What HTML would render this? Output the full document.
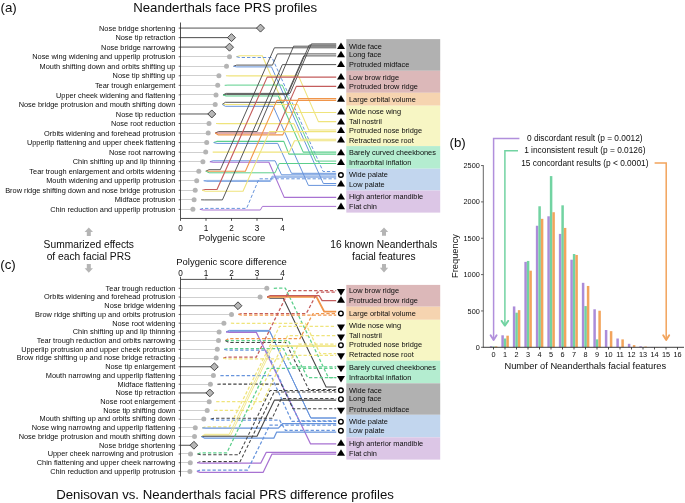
<!DOCTYPE html>
<html lang="en"><head><meta charset="utf-8"><title>Neanderthals face PRS profiles</title>
<style>
html,body{margin:0;padding:0;background:#fff;}
body{width:685px;height:503px;overflow:hidden;font-family:"Liberation Sans",sans-serif;}
svg{display:block;will-change:transform;opacity:0.9999;}
svg text{font-family:"Liberation Sans",sans-serif;}
</style></head><body>
<svg width="685" height="503" viewBox="0 0 685 503" font-family='"Liberation Sans", sans-serif'>
<rect width="685" height="503" fill="#fff"/>
<text x="0.50" y="12.22" font-size="13.3" text-anchor="start" fill="#0d0d0d" >(a)</text>
<text x="225.20" y="11.69" font-size="13.2" text-anchor="middle" fill="#0d0d0d" >Neanderthals face PRS profiles</text>
<text x="0.30" y="268.92" font-size="13.3" text-anchor="start" fill="#0d0d0d" >(c)</text>
<text x="225.00" y="498.69" font-size="13.2" text-anchor="middle" fill="#0d0d0d" >Denisovan vs. Neanderthals facial PRS difference profiles</text>
<text x="449.50" y="147.12" font-size="13.3" text-anchor="start" fill="#0d0d0d" >(b)</text>
<rect x="346.3" y="39.1" width="93.90" height="31.70" fill="#b1b1b1"/>
<rect x="346.3" y="70.8" width="93.90" height="22.00" fill="#dcb8b9"/>
<rect x="346.3" y="92.8" width="93.90" height="12.90" fill="#f6d4b0"/>
<rect x="346.3" y="105.7" width="93.90" height="40.40" fill="#f7f6c4"/>
<rect x="346.3" y="146.1" width="93.90" height="22.60" fill="#b4edd0"/>
<rect x="346.3" y="168.7" width="93.90" height="21.80" fill="#c2d6ee"/>
<rect x="346.3" y="190.5" width="93.90" height="22.10" fill="#dcc6e6"/>
<text x="175.30" y="30.72" font-size="7.38" text-anchor="end" fill="#0d0d0d" >Nose bridge shortening</text>
<line x1="178.7" y1="28.10" x2="180.5" y2="28.10" stroke="#222" stroke-width="0.7"/>
<line x1="180.5" y1="28.10" x2="260.50" y2="28.10" stroke="#9c9c9c" stroke-width="1.7"/>
<path d="M256.50,28.10 L260.50,24.10 L264.50,28.10 L260.50,32.10 Z" fill="#b7b7b7" stroke="#2e2e2e" stroke-width="0.85"/>
<text x="175.30" y="40.26" font-size="7.38" text-anchor="end" fill="#0d0d0d" >Nose tip retraction</text>
<line x1="178.7" y1="37.64" x2="180.5" y2="37.64" stroke="#222" stroke-width="0.7"/>
<line x1="180.5" y1="37.64" x2="231.50" y2="37.64" stroke="#3a3a3a" stroke-width="0.9"/>
<path d="M227.50,37.64 L231.50,33.64 L235.50,37.64 L231.50,41.64 Z" fill="#b7b7b7" stroke="#2e2e2e" stroke-width="0.85"/>
<text x="175.30" y="49.80" font-size="7.38" text-anchor="end" fill="#0d0d0d" >Nose bridge narrowing</text>
<line x1="178.7" y1="47.18" x2="180.5" y2="47.18" stroke="#222" stroke-width="0.7"/>
<line x1="180.5" y1="47.18" x2="229.50" y2="47.18" stroke="#9c9c9c" stroke-width="1.7"/>
<path d="M225.50,47.18 L229.50,43.18 L233.50,47.18 L229.50,51.18 Z" fill="#b7b7b7" stroke="#2e2e2e" stroke-width="0.85"/>
<text x="175.30" y="59.34" font-size="7.38" text-anchor="end" fill="#0d0d0d" >Nose wing widening and upperlip protrusion</text>
<line x1="178.7" y1="56.72" x2="180.5" y2="56.72" stroke="#222" stroke-width="0.7"/>
<line x1="180.5" y1="56.50" x2="229.50" y2="56.50" stroke="#cfcfcf" stroke-width="1"/>
<circle cx="229.50" cy="56.72" r="2.5" fill="#b4b4b4"/>
<text x="175.30" y="68.88" font-size="7.38" text-anchor="end" fill="#0d0d0d" >Mouth shifting down and orbits shifting up</text>
<line x1="178.7" y1="66.26" x2="180.5" y2="66.26" stroke="#222" stroke-width="0.7"/>
<line x1="180.5" y1="66.50" x2="226.50" y2="66.50" stroke="#cfcfcf" stroke-width="1"/>
<circle cx="226.50" cy="66.26" r="2.5" fill="#b4b4b4"/>
<text x="175.30" y="78.42" font-size="7.38" text-anchor="end" fill="#0d0d0d" >Nose tip shifting up</text>
<line x1="178.7" y1="75.80" x2="180.5" y2="75.80" stroke="#222" stroke-width="0.7"/>
<line x1="180.5" y1="75.50" x2="218.90" y2="75.50" stroke="#cfcfcf" stroke-width="1"/>
<circle cx="218.90" cy="75.80" r="2.5" fill="#b4b4b4"/>
<text x="175.30" y="87.96" font-size="7.38" text-anchor="end" fill="#0d0d0d" >Tear trough enlargement</text>
<line x1="178.7" y1="85.34" x2="180.5" y2="85.34" stroke="#222" stroke-width="0.7"/>
<line x1="180.5" y1="85.50" x2="217.70" y2="85.50" stroke="#cfcfcf" stroke-width="1"/>
<circle cx="217.70" cy="85.34" r="2.5" fill="#b4b4b4"/>
<text x="175.30" y="97.50" font-size="7.38" text-anchor="end" fill="#0d0d0d" >Upper cheek widening and flattening</text>
<line x1="178.7" y1="94.88" x2="180.5" y2="94.88" stroke="#222" stroke-width="0.7"/>
<line x1="180.5" y1="94.50" x2="216.00" y2="94.50" stroke="#cfcfcf" stroke-width="1"/>
<circle cx="216.00" cy="94.88" r="2.5" fill="#b4b4b4"/>
<text x="175.30" y="107.04" font-size="7.38" text-anchor="end" fill="#0d0d0d" >Nose bridge protrusion and mouth shifting down</text>
<line x1="178.7" y1="104.42" x2="180.5" y2="104.42" stroke="#222" stroke-width="0.7"/>
<line x1="180.5" y1="104.50" x2="215.20" y2="104.50" stroke="#cfcfcf" stroke-width="1"/>
<circle cx="215.20" cy="104.42" r="2.5" fill="#b4b4b4"/>
<text x="175.30" y="116.58" font-size="7.38" text-anchor="end" fill="#0d0d0d" >Nose tip reduction</text>
<line x1="178.7" y1="113.96" x2="180.5" y2="113.96" stroke="#222" stroke-width="0.7"/>
<line x1="180.5" y1="113.96" x2="211.80" y2="113.96" stroke="#9c9c9c" stroke-width="1.7"/>
<path d="M207.80,113.96 L211.80,109.96 L215.80,113.96 L211.80,117.96 Z" fill="#b7b7b7" stroke="#2e2e2e" stroke-width="0.85"/>
<text x="175.30" y="126.12" font-size="7.38" text-anchor="end" fill="#0d0d0d" >Nose root reduction</text>
<line x1="178.7" y1="123.50" x2="180.5" y2="123.50" stroke="#222" stroke-width="0.7"/>
<line x1="180.5" y1="123.50" x2="209.00" y2="123.50" stroke="#cfcfcf" stroke-width="1"/>
<circle cx="209.00" cy="123.50" r="2.5" fill="#b4b4b4"/>
<text x="175.30" y="135.66" font-size="7.38" text-anchor="end" fill="#0d0d0d" >Orbits widening and forehead protrusion</text>
<line x1="178.7" y1="133.04" x2="180.5" y2="133.04" stroke="#222" stroke-width="0.7"/>
<line x1="180.5" y1="133.50" x2="208.20" y2="133.50" stroke="#cfcfcf" stroke-width="1"/>
<circle cx="208.20" cy="133.04" r="2.5" fill="#b4b4b4"/>
<text x="175.30" y="145.20" font-size="7.38" text-anchor="end" fill="#0d0d0d" >Upperlip flattening and upper cheek flattening</text>
<line x1="178.7" y1="142.58" x2="180.5" y2="142.58" stroke="#222" stroke-width="0.7"/>
<line x1="180.5" y1="142.50" x2="206.70" y2="142.50" stroke="#cfcfcf" stroke-width="1"/>
<circle cx="206.70" cy="142.58" r="2.5" fill="#b4b4b4"/>
<text x="175.30" y="154.74" font-size="7.38" text-anchor="end" fill="#0d0d0d" >Nose root narrowing</text>
<line x1="178.7" y1="152.12" x2="180.5" y2="152.12" stroke="#222" stroke-width="0.7"/>
<line x1="180.5" y1="152.50" x2="205.70" y2="152.50" stroke="#cfcfcf" stroke-width="1"/>
<circle cx="205.70" cy="152.12" r="2.5" fill="#b4b4b4"/>
<text x="175.30" y="164.28" font-size="7.38" text-anchor="end" fill="#0d0d0d" >Chin shifting up and lip thinning</text>
<line x1="178.7" y1="161.66" x2="180.5" y2="161.66" stroke="#222" stroke-width="0.7"/>
<line x1="180.5" y1="161.50" x2="202.90" y2="161.50" stroke="#cfcfcf" stroke-width="1"/>
<circle cx="202.90" cy="161.66" r="2.5" fill="#b4b4b4"/>
<text x="175.30" y="173.82" font-size="7.38" text-anchor="end" fill="#0d0d0d" >Tear trough enlargement and orbits widening</text>
<line x1="178.7" y1="171.20" x2="180.5" y2="171.20" stroke="#222" stroke-width="0.7"/>
<line x1="180.5" y1="171.50" x2="198.80" y2="171.50" stroke="#cfcfcf" stroke-width="1"/>
<circle cx="198.80" cy="171.20" r="2.5" fill="#b4b4b4"/>
<text x="175.30" y="183.36" font-size="7.38" text-anchor="end" fill="#0d0d0d" >Mouth widening and upperlip protrusion</text>
<line x1="178.7" y1="180.74" x2="180.5" y2="180.74" stroke="#222" stroke-width="0.7"/>
<line x1="180.5" y1="180.50" x2="196.70" y2="180.50" stroke="#cfcfcf" stroke-width="1"/>
<circle cx="196.70" cy="180.74" r="2.5" fill="#b4b4b4"/>
<text x="175.30" y="192.90" font-size="7.38" text-anchor="end" fill="#0d0d0d" >Brow ridge shifting down and nose bridge protrusion</text>
<line x1="178.7" y1="190.28" x2="180.5" y2="190.28" stroke="#222" stroke-width="0.7"/>
<line x1="180.5" y1="190.50" x2="195.20" y2="190.50" stroke="#cfcfcf" stroke-width="1"/>
<circle cx="195.20" cy="190.28" r="2.5" fill="#b4b4b4"/>
<text x="175.30" y="202.44" font-size="7.38" text-anchor="end" fill="#0d0d0d" >Midface protrusion</text>
<line x1="178.7" y1="199.82" x2="180.5" y2="199.82" stroke="#222" stroke-width="0.7"/>
<line x1="180.5" y1="199.50" x2="194.10" y2="199.50" stroke="#cfcfcf" stroke-width="1"/>
<circle cx="194.10" cy="199.82" r="2.5" fill="#b4b4b4"/>
<text x="175.30" y="211.98" font-size="7.38" text-anchor="end" fill="#0d0d0d" >Chin reduction and upperlip protrusion</text>
<line x1="178.7" y1="209.36" x2="180.5" y2="209.36" stroke="#222" stroke-width="0.7"/>
<line x1="180.5" y1="209.50" x2="192.90" y2="209.50" stroke="#cfcfcf" stroke-width="1"/>
<circle cx="192.90" cy="209.36" r="2.5" fill="#b4b4b4"/>
<path d="M180.5,22.5 L180.5,218.45 L282.6,218.45" fill="none" stroke="#222" stroke-width="0.8"/>
<line x1="180.50" y1="218.45" x2="180.50" y2="220.8" stroke="#222" stroke-width="0.8"/>
<text x="180.50" y="231.11" font-size="8.2" text-anchor="middle" fill="#0d0d0d" >0</text>
<line x1="206.00" y1="218.45" x2="206.00" y2="220.8" stroke="#222" stroke-width="0.8"/>
<text x="206.00" y="231.11" font-size="8.2" text-anchor="middle" fill="#0d0d0d" >1</text>
<line x1="231.50" y1="218.45" x2="231.50" y2="220.8" stroke="#222" stroke-width="0.8"/>
<text x="231.50" y="231.11" font-size="8.2" text-anchor="middle" fill="#0d0d0d" >2</text>
<line x1="257.00" y1="218.45" x2="257.00" y2="220.8" stroke="#222" stroke-width="0.8"/>
<text x="257.00" y="231.11" font-size="8.2" text-anchor="middle" fill="#0d0d0d" >3</text>
<line x1="282.50" y1="218.45" x2="282.50" y2="220.8" stroke="#222" stroke-width="0.8"/>
<text x="282.50" y="231.11" font-size="8.2" text-anchor="middle" fill="#0d0d0d" >4</text>
<text x="232.00" y="240.85" font-size="9.45" text-anchor="middle" fill="#0d0d0d" >Polygenic score</text>
<path d="M236.50,56.72 L239.70,55.70 L262.30,55.70 L287.00,112.50 L336.20,112.50" fill="none" stroke="#efe47c" stroke-width="1.1" stroke-linejoin="round"/>
<path d="M236.50,56.72 L239.70,57.50 L272.00,57.50 L323.10,171.50 L336.20,171.50" fill="none" stroke="#6794dc" stroke-width="1.0" stroke-linejoin="round" stroke-dasharray="3.3 2"/>
<path d="M233.50,66.26 L236.70,65.10 L272.50,65.10 L277.30,53.90 L336.20,53.90" fill="none" stroke="#444444" stroke-width="0.9" stroke-linejoin="round"/>
<path d="M233.50,66.26 L236.70,66.90 L271.50,66.90 L323.30,183.50 L336.20,183.50" fill="none" stroke="#6794dc" stroke-width="1.0" stroke-linejoin="round"/>
<path d="M225.90,75.80 L229.10,75.90 L298.50,75.90 L318.40,121.60 L336.20,121.60" fill="none" stroke="#efe47c" stroke-width="1.1" stroke-linejoin="round"/>
<path d="M224.70,85.34 L227.90,85.10 L282.30,85.10 L316.00,161.10 L336.20,161.10" fill="none" stroke="#5ccf8c" stroke-width="1.0" stroke-linejoin="round"/>
<path d="M223.00,94.88 L226.20,93.40 L290.00,93.40 L311.40,43.90 L336.20,43.90" fill="none" stroke="#444444" stroke-width="0.9" stroke-linejoin="round"/>
<path d="M223.00,94.88 L226.20,94.60 L287.60,94.60 L309.20,45.10 L336.20,45.10" fill="none" stroke="#444444" stroke-width="0.9" stroke-linejoin="round"/>
<path d="M223.00,94.88 L226.20,96.00 L278.30,96.00 L303.20,152.10 L336.20,152.10" fill="none" stroke="#5ccf8c" stroke-width="1.1" stroke-linejoin="round"/>
<path d="M222.20,104.42 L225.40,102.30 L283.60,102.30 L303.80,55.90 L336.20,55.90" fill="none" stroke="#444444" stroke-width="0.9" stroke-linejoin="round"/>
<path d="M222.20,104.42 L225.40,104.50 L297.60,104.50 L308.70,130.00 L336.20,130.00" fill="none" stroke="#efe47c" stroke-width="1.1" stroke-linejoin="round"/>
<path d="M222.20,104.42 L225.40,106.30 L273.20,106.30 L308.40,185.40 L336.20,185.40" fill="none" stroke="#6794dc" stroke-width="1.0" stroke-linejoin="round"/>
<path d="M216.00,123.50 L219.20,123.60 L293.90,123.60 L300.70,139.20 L336.20,139.20" fill="none" stroke="#efe47c" stroke-width="1.1" stroke-linejoin="round"/>
<path d="M215.20,133.04 L218.40,131.60 L257.10,131.60 L293.60,46.20 L336.20,46.20" fill="none" stroke="#444444" stroke-width="0.9" stroke-linejoin="round"/>
<path d="M215.20,133.04 L218.40,133.00 L275.60,133.00 L296.30,86.40 L336.20,86.40" fill="none" stroke="#c45c5c" stroke-width="1.1" stroke-linejoin="round"/>
<path d="M215.20,133.04 L218.40,134.90 L282.80,134.90 L298.60,98.60 L336.20,98.60" fill="none" stroke="#f0954a" stroke-width="1.1" stroke-linejoin="round"/>
<path d="M213.70,142.58 L216.90,141.40 L283.80,141.40 L288.90,154.10 L336.20,154.10" fill="none" stroke="#5ccf8c" stroke-width="1.1" stroke-linejoin="round"/>
<path d="M213.70,142.58 L216.90,143.40 L277.70,143.40 L291.50,173.30 L336.20,173.30" fill="none" stroke="#6794dc" stroke-width="1.0" stroke-linejoin="round"/>
<path d="M212.70,152.12 L215.90,152.10 L289.40,152.10 L294.50,140.80 L336.20,140.80" fill="none" stroke="#efe47c" stroke-width="1.1" stroke-linejoin="round"/>
<path d="M209.90,161.66 L213.10,160.80 L275.10,160.80 L281.50,174.80 L336.20,174.80" fill="none" stroke="#6794dc" stroke-width="1.0" stroke-linejoin="round"/>
<path d="M209.90,161.66 L213.10,162.30 L268.90,162.30 L284.20,197.40 L336.20,197.40" fill="none" stroke="#a872d2" stroke-width="1.1" stroke-linejoin="round"/>
<path d="M205.80,171.20 L209.00,169.70 L220.30,169.70 L274.40,47.80 L336.20,47.80" fill="none" stroke="#444444" stroke-width="0.9" stroke-linejoin="round"/>
<path d="M205.80,171.20 L209.00,171.20 L245.40,171.20 L276.90,100.40 L336.20,100.40" fill="none" stroke="#f0954a" stroke-width="1.1" stroke-linejoin="round"/>
<path d="M205.80,171.20 L209.00,172.80 L275.10,172.80 L279.20,163.50 L336.20,163.50" fill="none" stroke="#5ccf8c" stroke-width="1.0" stroke-linejoin="round"/>
<path d="M203.70,180.74 L206.90,180.40 L270.00,180.40 L272.00,176.20 L336.20,176.20" fill="none" stroke="#6794dc" stroke-width="0.75" stroke-linejoin="round"/>
<path d="M203.70,180.74 L206.90,181.50 L270.40,181.50 L272.40,177.30 L336.20,177.30" fill="none" stroke="#6794dc" stroke-width="0.75" stroke-linejoin="round"/>
<path d="M202.20,190.28 L205.40,189.50 L217.00,189.50 L267.20,77.10 L336.20,77.10" fill="none" stroke="#c45c5c" stroke-width="1.1" stroke-linejoin="round"/>
<path d="M202.20,190.28 L205.40,191.30 L243.00,191.30 L269.50,131.60 L336.20,131.60" fill="none" stroke="#efe47c" stroke-width="1.1" stroke-linejoin="round"/>
<path d="M201.10,199.82 L204.30,199.90 L222.40,199.90 L282.40,64.60 L336.20,64.60" fill="none" stroke="#444444" stroke-width="0.9" stroke-linejoin="round"/>
<path d="M199.90,209.36 L203.10,208.40 L246.60,208.40 L259.00,178.80 L336.20,178.80" fill="none" stroke="#6794dc" stroke-width="1.0" stroke-linejoin="round" stroke-dasharray="3.3 2"/>
<path d="M199.90,209.36 L203.10,210.00 L260.40,210.00 L262.40,206.40 L336.20,206.40" fill="none" stroke="#a872d2" stroke-width="1.0" stroke-linejoin="round"/>
<text x="349" y="48.90" font-size="7.38" fill="#0d0d0d">Wide face</text>
<path d="M337.00,48.95 L345.00,48.95 L341.00,42.40 Z" fill="#000"/>
<text x="349" y="57.30" font-size="7.38" fill="#0d0d0d">Long face</text>
<path d="M337.00,57.35 L345.00,57.35 L341.00,50.80 Z" fill="#000"/>
<text x="349" y="66.90" font-size="7.38" fill="#0d0d0d">Protruded midface</text>
<path d="M337.00,66.95 L345.00,66.95 L341.00,60.40 Z" fill="#000"/>
<text x="349" y="79.50" font-size="7.38" fill="#0d0d0d">Low brow ridge</text>
<path d="M337.00,79.55 L345.00,79.55 L341.00,73.00 Z" fill="#000"/>
<text x="349" y="88.50" font-size="7.38" fill="#0d0d0d">Protruded brow ridge</text>
<path d="M337.00,88.55 L345.00,88.55 L341.00,82.00 Z" fill="#000"/>
<text x="349" y="101.60" font-size="7.38" fill="#0d0d0d">Large orbital volume</text>
<path d="M337.00,101.65 L345.00,101.65 L341.00,95.10 Z" fill="#000"/>
<text x="349" y="114.40" font-size="7.38" fill="#0d0d0d">Wide nose wing</text>
<path d="M337.00,114.45 L345.00,114.45 L341.00,107.90 Z" fill="#000"/>
<text x="349" y="124.40" font-size="7.38" fill="#0d0d0d">Tall nostril</text>
<path d="M337.00,124.45 L345.00,124.45 L341.00,117.90 Z" fill="#000"/>
<text x="349" y="132.90" font-size="7.38" fill="#0d0d0d">Protruded nose bridge</text>
<path d="M337.00,132.95 L345.00,132.95 L341.00,126.40 Z" fill="#000"/>
<text x="349" y="142.50" font-size="7.38" fill="#0d0d0d">Retracted nose root</text>
<path d="M337.00,142.55 L345.00,142.55 L341.00,136.00 Z" fill="#000"/>
<text x="349" y="155.20" font-size="7.38" fill="#0d0d0d">Barely curved cheekbones</text>
<path d="M337.00,155.25 L345.00,155.25 L341.00,148.70 Z" fill="#000"/>
<text x="349" y="165.00" font-size="7.38" fill="#0d0d0d">Infraorbital inflation</text>
<path d="M337.00,165.05 L345.00,165.05 L341.00,158.50 Z" fill="#000"/>
<text x="349" y="177.20" font-size="7.38" fill="#0d0d0d">Wide palate</text>
<circle cx="340.90" cy="175.00" r="2.3" fill="#fff" stroke="#000" stroke-width="1.4"/>
<text x="349" y="186.50" font-size="7.38" fill="#0d0d0d">Low palate</text>
<path d="M337.00,186.55 L345.00,186.55 L341.00,180.00 Z" fill="#000"/>
<text x="349" y="199.40" font-size="7.38" fill="#0d0d0d">High anterior mandible</text>
<path d="M337.00,199.45 L345.00,199.45 L341.00,192.90 Z" fill="#000"/>
<text x="349" y="209.10" font-size="7.38" fill="#0d0d0d">Flat chin</text>
<path d="M337.00,209.15 L345.00,209.15 L341.00,202.60 Z" fill="#000"/>
<text x="88.80" y="248.24" font-size="10.25" text-anchor="middle" fill="#0d0d0d" >Summarized effects</text>
<text x="88.80" y="259.94" font-size="10.25" text-anchor="middle" fill="#0d0d0d" >of each facial PRS</text>
<path d="M88.8,227.4 L93.0,232.0 L90.8,232.0 L90.8,236.0 L86.8,236.0 L86.8,232.0 L84.6,232.0 Z" fill="#b5b5b5"/>
<path d="M88.8,272.8 L93.0,268.2 L90.8,268.2 L90.8,264.0 L86.8,264.0 L86.8,268.2 L84.6,268.2 Z" fill="#b5b5b5"/>
<text x="383.80" y="248.02" font-size="10.2" text-anchor="middle" fill="#0d0d0d" >16 known Neanderthals</text>
<text x="383.80" y="259.62" font-size="10.2" text-anchor="middle" fill="#0d0d0d" >facial features</text>
<path d="M384,227.4 L388.2,232.0 L386.0,232.0 L386.0,235.8 L382.0,235.8 L382.0,232.0 L379.8,232.0 Z" fill="#b5b5b5"/>
<path d="M384,272.4 L388.2,267.79999999999995 L386.0,267.79999999999995 L386.0,264.0 L382.0,264.0 L382.0,267.79999999999995 L379.8,267.79999999999995 Z" fill="#b5b5b5"/>
<rect x="346.3" y="284.9" width="93.90" height="21.80" fill="#dcb8b9"/>
<rect x="346.3" y="306.7" width="93.90" height="13.10" fill="#f6d4b0"/>
<rect x="346.3" y="319.8" width="93.90" height="40.90" fill="#f7f6c4"/>
<rect x="346.3" y="360.7" width="93.90" height="22.60" fill="#b4edd0"/>
<rect x="346.3" y="383.3" width="93.90" height="31.50" fill="#b1b1b1"/>
<rect x="346.3" y="414.8" width="93.90" height="22.50" fill="#c2d6ee"/>
<rect x="346.3" y="437.3" width="93.90" height="22.30" fill="#dcc6e6"/>
<text x="175.30" y="290.62" font-size="7.38" text-anchor="end" fill="#0d0d0d" >Tear trough reduction</text>
<line x1="178.7" y1="288.30" x2="180.5" y2="288.30" stroke="#222" stroke-width="0.7"/>
<line x1="180.5" y1="288.50" x2="266.80" y2="288.50" stroke="#cfcfcf" stroke-width="1"/>
<circle cx="266.80" cy="288.30" r="2.5" fill="#b4b4b4"/>
<text x="175.30" y="299.34" font-size="7.38" text-anchor="end" fill="#0d0d0d" >Orbits widening and forehead protrusion</text>
<line x1="178.7" y1="297.02" x2="180.5" y2="297.02" stroke="#222" stroke-width="0.7"/>
<line x1="180.5" y1="297.50" x2="260.10" y2="297.50" stroke="#cfcfcf" stroke-width="1"/>
<circle cx="260.10" cy="297.02" r="2.5" fill="#b4b4b4"/>
<text x="175.30" y="308.06" font-size="7.38" text-anchor="end" fill="#0d0d0d" >Nose bridge widening</text>
<line x1="178.7" y1="305.74" x2="180.5" y2="305.74" stroke="#222" stroke-width="0.7"/>
<line x1="180.5" y1="305.74" x2="238.00" y2="305.74" stroke="#3a3a3a" stroke-width="0.9"/>
<path d="M234.10,305.74 L238.00,301.84 L241.90,305.74 L238.00,309.64 Z" fill="#b7b7b7" stroke="#2e2e2e" stroke-width="0.85"/>
<text x="175.30" y="316.78" font-size="7.38" text-anchor="end" fill="#0d0d0d" >Brow ridge shifting up and orbits protrusion</text>
<line x1="178.7" y1="314.46" x2="180.5" y2="314.46" stroke="#222" stroke-width="0.7"/>
<line x1="180.5" y1="314.50" x2="231.50" y2="314.50" stroke="#cfcfcf" stroke-width="1"/>
<circle cx="231.50" cy="314.46" r="2.5" fill="#b4b4b4"/>
<text x="175.30" y="325.50" font-size="7.38" text-anchor="end" fill="#0d0d0d" >Nose root widening</text>
<line x1="178.7" y1="323.18" x2="180.5" y2="323.18" stroke="#222" stroke-width="0.7"/>
<line x1="180.5" y1="323.50" x2="223.90" y2="323.50" stroke="#cfcfcf" stroke-width="1"/>
<circle cx="223.90" cy="323.18" r="2.5" fill="#b4b4b4"/>
<text x="175.30" y="334.22" font-size="7.38" text-anchor="end" fill="#0d0d0d" >Chin shifting up and lip thinning</text>
<line x1="178.7" y1="331.90" x2="180.5" y2="331.90" stroke="#222" stroke-width="0.7"/>
<line x1="180.5" y1="331.50" x2="219.10" y2="331.50" stroke="#cfcfcf" stroke-width="1"/>
<circle cx="219.10" cy="331.90" r="2.5" fill="#b4b4b4"/>
<text x="175.30" y="342.94" font-size="7.38" text-anchor="end" fill="#0d0d0d" >Tear trough reduction and orbits narrowing</text>
<line x1="178.7" y1="340.62" x2="180.5" y2="340.62" stroke="#222" stroke-width="0.7"/>
<line x1="180.5" y1="340.50" x2="218.50" y2="340.50" stroke="#cfcfcf" stroke-width="1"/>
<circle cx="218.50" cy="340.62" r="2.5" fill="#b4b4b4"/>
<text x="175.30" y="351.66" font-size="7.38" text-anchor="end" fill="#0d0d0d" >Upperlip protrusion and upper cheek protrusion</text>
<line x1="178.7" y1="349.34" x2="180.5" y2="349.34" stroke="#222" stroke-width="0.7"/>
<line x1="180.5" y1="349.50" x2="217.30" y2="349.50" stroke="#cfcfcf" stroke-width="1"/>
<circle cx="217.30" cy="349.34" r="2.5" fill="#b4b4b4"/>
<text x="175.30" y="360.38" font-size="7.38" text-anchor="end" fill="#0d0d0d" >Brow ridge shifting up and nose bridge retracting</text>
<line x1="178.7" y1="358.06" x2="180.5" y2="358.06" stroke="#222" stroke-width="0.7"/>
<line x1="180.5" y1="358.50" x2="216.20" y2="358.50" stroke="#cfcfcf" stroke-width="1"/>
<circle cx="216.20" cy="358.06" r="2.5" fill="#b4b4b4"/>
<text x="175.30" y="369.10" font-size="7.38" text-anchor="end" fill="#0d0d0d" >Nose tip enlargement</text>
<line x1="178.7" y1="366.78" x2="180.5" y2="366.78" stroke="#222" stroke-width="0.7"/>
<line x1="180.5" y1="366.78" x2="214.40" y2="366.78" stroke="#3a3a3a" stroke-width="0.9"/>
<path d="M210.50,366.78 L214.40,362.88 L218.30,366.78 L214.40,370.68 Z" fill="#b7b7b7" stroke="#2e2e2e" stroke-width="0.85"/>
<text x="175.30" y="377.82" font-size="7.38" text-anchor="end" fill="#0d0d0d" >Mouth narrowing and upperlip flattening</text>
<line x1="178.7" y1="375.50" x2="180.5" y2="375.50" stroke="#222" stroke-width="0.7"/>
<line x1="180.5" y1="375.50" x2="213.40" y2="375.50" stroke="#cfcfcf" stroke-width="1"/>
<circle cx="213.40" cy="375.50" r="2.5" fill="#b4b4b4"/>
<text x="175.30" y="386.54" font-size="7.38" text-anchor="end" fill="#0d0d0d" >Midface flattening</text>
<line x1="178.7" y1="384.22" x2="180.5" y2="384.22" stroke="#222" stroke-width="0.7"/>
<line x1="180.5" y1="384.50" x2="210.40" y2="384.50" stroke="#cfcfcf" stroke-width="1"/>
<circle cx="210.40" cy="384.22" r="2.5" fill="#b4b4b4"/>
<text x="175.30" y="395.26" font-size="7.38" text-anchor="end" fill="#0d0d0d" >Nose tip retraction</text>
<line x1="178.7" y1="392.94" x2="180.5" y2="392.94" stroke="#222" stroke-width="0.7"/>
<line x1="180.5" y1="392.94" x2="209.80" y2="392.94" stroke="#3a3a3a" stroke-width="0.9"/>
<path d="M205.90,392.94 L209.80,389.04 L213.70,392.94 L209.80,396.84 Z" fill="#b7b7b7" stroke="#2e2e2e" stroke-width="0.85"/>
<text x="175.30" y="403.98" font-size="7.38" text-anchor="end" fill="#0d0d0d" >Nose root enlargement</text>
<line x1="178.7" y1="401.66" x2="180.5" y2="401.66" stroke="#222" stroke-width="0.7"/>
<line x1="180.5" y1="401.50" x2="209.20" y2="401.50" stroke="#cfcfcf" stroke-width="1"/>
<circle cx="209.20" cy="401.66" r="2.5" fill="#b4b4b4"/>
<text x="175.30" y="412.70" font-size="7.38" text-anchor="end" fill="#0d0d0d" >Nose tip shifting down</text>
<line x1="178.7" y1="410.38" x2="180.5" y2="410.38" stroke="#222" stroke-width="0.7"/>
<line x1="180.5" y1="410.50" x2="207.20" y2="410.50" stroke="#cfcfcf" stroke-width="1"/>
<circle cx="207.20" cy="410.38" r="2.5" fill="#b4b4b4"/>
<text x="175.30" y="421.42" font-size="7.38" text-anchor="end" fill="#0d0d0d" >Mouth shifting up and orbits shifting down</text>
<line x1="178.7" y1="419.10" x2="180.5" y2="419.10" stroke="#222" stroke-width="0.7"/>
<line x1="180.5" y1="419.50" x2="203.80" y2="419.50" stroke="#cfcfcf" stroke-width="1"/>
<circle cx="203.80" cy="419.10" r="2.5" fill="#b4b4b4"/>
<text x="175.30" y="430.14" font-size="7.38" text-anchor="end" fill="#0d0d0d" >Nose wing narrowing and upperlip flattening</text>
<line x1="178.7" y1="427.82" x2="180.5" y2="427.82" stroke="#222" stroke-width="0.7"/>
<line x1="180.5" y1="427.50" x2="195.30" y2="427.50" stroke="#cfcfcf" stroke-width="1"/>
<circle cx="195.30" cy="427.82" r="2.5" fill="#b4b4b4"/>
<text x="175.30" y="438.86" font-size="7.38" text-anchor="end" fill="#0d0d0d" >Nose bridge protrusion and mouth shifting down</text>
<line x1="178.7" y1="436.54" x2="180.5" y2="436.54" stroke="#222" stroke-width="0.7"/>
<line x1="180.5" y1="436.50" x2="194.50" y2="436.50" stroke="#cfcfcf" stroke-width="1"/>
<circle cx="194.50" cy="436.54" r="2.5" fill="#b4b4b4"/>
<text x="175.30" y="447.58" font-size="7.38" text-anchor="end" fill="#0d0d0d" >Nose bridge shortening</text>
<line x1="178.7" y1="445.26" x2="180.5" y2="445.26" stroke="#222" stroke-width="0.7"/>
<line x1="180.5" y1="445.26" x2="193.90" y2="445.26" stroke="#3a3a3a" stroke-width="0.9"/>
<path d="M190.00,445.26 L193.90,441.36 L197.80,445.26 L193.90,449.16 Z" fill="#b7b7b7" stroke="#2e2e2e" stroke-width="0.85"/>
<text x="173.10" y="456.30" font-size="7.38" text-anchor="end" fill="#0d0d0d" >Upper cheek narrowing and protrusion</text>
<line x1="178.7" y1="453.98" x2="180.5" y2="453.98" stroke="#222" stroke-width="0.7"/>
<line x1="180.5" y1="453.50" x2="190.50" y2="453.50" stroke="#cfcfcf" stroke-width="1"/>
<circle cx="190.50" cy="453.98" r="2.5" fill="#b4b4b4"/>
<text x="175.30" y="465.02" font-size="7.38" text-anchor="end" fill="#0d0d0d" >Chin flattening and upper cheek narrowing</text>
<line x1="178.7" y1="462.70" x2="180.5" y2="462.70" stroke="#222" stroke-width="0.7"/>
<line x1="180.5" y1="462.50" x2="190.30" y2="462.50" stroke="#cfcfcf" stroke-width="1"/>
<circle cx="190.30" cy="462.70" r="2.5" fill="#b4b4b4"/>
<text x="175.30" y="473.74" font-size="7.38" text-anchor="end" fill="#0d0d0d" >Chin reduction and upperlip protrusion</text>
<line x1="178.7" y1="471.42" x2="180.5" y2="471.42" stroke="#222" stroke-width="0.7"/>
<line x1="180.5" y1="471.50" x2="189.90" y2="471.50" stroke="#cfcfcf" stroke-width="1"/>
<circle cx="189.90" cy="471.42" r="2.5" fill="#b4b4b4"/>
<path d="M180.5,476.5 L180.5,279.4 L282.6,279.4" fill="none" stroke="#222" stroke-width="0.8"/>
<line x1="180.50" y1="279.4" x2="180.50" y2="276.8" stroke="#222" stroke-width="0.8"/>
<text x="180.50" y="275.51" font-size="8.2" text-anchor="middle" fill="#0d0d0d" >0</text>
<line x1="206.00" y1="279.4" x2="206.00" y2="276.8" stroke="#222" stroke-width="0.8"/>
<text x="206.00" y="275.51" font-size="8.2" text-anchor="middle" fill="#0d0d0d" >1</text>
<line x1="231.50" y1="279.4" x2="231.50" y2="276.8" stroke="#222" stroke-width="0.8"/>
<text x="231.50" y="275.51" font-size="8.2" text-anchor="middle" fill="#0d0d0d" >2</text>
<line x1="257.00" y1="279.4" x2="257.00" y2="276.8" stroke="#222" stroke-width="0.8"/>
<text x="257.00" y="275.51" font-size="8.2" text-anchor="middle" fill="#0d0d0d" >3</text>
<line x1="282.50" y1="279.4" x2="282.50" y2="276.8" stroke="#222" stroke-width="0.8"/>
<text x="282.50" y="275.51" font-size="8.2" text-anchor="middle" fill="#0d0d0d" >4</text>
<text x="231.60" y="264.85" font-size="9.45" text-anchor="middle" fill="#0d0d0d" >Polygenic score difference</text>
<path d="M273.80,288.30 L277.00,288.10 L285.30,288.10 L328.50,377.70 L336.20,377.70" fill="none" stroke="#5ccf8c" stroke-width="1.25" stroke-linejoin="round" stroke-dasharray="3.3 2"/>
<path d="M267.10,297.02 L270.30,298.30 L283.30,298.30 L326.10,386.90 L336.20,386.90" fill="none" stroke="#444444" stroke-width="1.05" stroke-linejoin="round"/>
<path d="M267.10,297.02 L270.30,296.90 L316.50,296.90 L324.20,311.60 L336.20,311.60" fill="none" stroke="#f0954a" stroke-width="1.9" stroke-linejoin="round"/>
<path d="M267.10,297.02 L270.30,295.50 L319.00,295.50 L322.10,300.60 L336.20,300.60" fill="none" stroke="#c45c5c" stroke-width="1.25" stroke-linejoin="round"/>
<path d="M238.50,314.46 L241.70,313.50 L306.30,313.50 L317.50,292.20 L336.20,292.20" fill="none" stroke="#c45c5c" stroke-width="1.25" stroke-linejoin="round" stroke-dasharray="3.3 2"/>
<path d="M238.50,314.46 L241.70,315.20 L300.00,315.20 L310.00,315.20 L336.20,315.20" fill="none" stroke="#f0954a" stroke-width="1.25" stroke-linejoin="round" stroke-dasharray="3.3 2"/>
<path d="M230.90,323.18 L234.10,323.40 L305.60,323.40 L320.00,353.60 L336.20,353.60" fill="none" stroke="#efe47c" stroke-width="1.25" stroke-linejoin="round" stroke-dasharray="3.3 2"/>
<path d="M226.10,331.90 L229.30,330.40 L269.30,330.40 L310.80,418.00 L336.20,418.00" fill="none" stroke="#6794dc" stroke-width="1.0" stroke-linejoin="round"/>
<path d="M226.10,331.90 L229.30,331.30 L269.70,331.30 L310.80,418.00 L336.20,418.00" fill="none" stroke="#6794dc" stroke-width="1.0" stroke-linejoin="round"/>
<path d="M226.10,331.90 L229.30,332.30 L256.30,332.30 L310.60,443.90 L336.20,443.90" fill="none" stroke="#a872d2" stroke-width="1.25" stroke-linejoin="round"/>
<path d="M225.50,340.62 L228.70,338.60 L300.00,338.60 L312.90,313.70 L336.20,313.70" fill="none" stroke="#f0954a" stroke-width="1.25" stroke-linejoin="round" stroke-dasharray="3.3 2"/>
<path d="M225.50,340.62 L228.70,340.50 L288.30,340.50 L307.70,377.70 L336.20,377.70" fill="none" stroke="#5ccf8c" stroke-width="1.25" stroke-linejoin="round" stroke-dasharray="3.3 2"/>
<path d="M225.50,340.62 L228.70,342.40 L285.70,342.40 L308.70,389.40 L336.20,389.40" fill="none" stroke="#444444" stroke-width="1.05" stroke-linejoin="round" stroke-dasharray="3.3 2"/>
<path d="M224.30,349.34 L227.50,348.50 L283.40,348.50 L292.20,366.90 L336.20,366.90" fill="none" stroke="#5ccf8c" stroke-width="1.25" stroke-linejoin="round" stroke-dasharray="3.3 2"/>
<path d="M224.30,349.34 L227.50,350.10 L266.10,350.10 L299.10,420.80 L336.20,420.80" fill="none" stroke="#6794dc" stroke-width="1.25" stroke-linejoin="round" stroke-dasharray="3.3 2"/>
<path d="M223.20,358.06 L226.40,357.20 L256.30,357.20 L288.90,290.70 L336.20,290.70" fill="none" stroke="#c45c5c" stroke-width="1.25" stroke-linejoin="round" stroke-dasharray="3.3 2"/>
<path d="M223.20,358.06 L226.40,358.90 L291.60,358.90 L298.50,344.10 L336.20,344.10" fill="none" stroke="#efe47c" stroke-width="1.25" stroke-linejoin="round" stroke-dasharray="3.3 2"/>
<path d="M220.40,375.50 L223.60,375.50 L270.90,375.50 L291.80,421.40 L336.20,421.40" fill="none" stroke="#6794dc" stroke-width="1.25" stroke-linejoin="round" stroke-dasharray="3.3 2"/>
<path d="M217.40,384.22 L220.60,384.10 L281.30,384.10 L293.00,408.80 L336.20,408.80" fill="none" stroke="#444444" stroke-width="1.05" stroke-linejoin="round" stroke-dasharray="3.3 2"/>
<path d="M216.20,401.66 L219.40,401.70 L262.90,401.70 L285.00,355.30 L336.20,355.30" fill="none" stroke="#efe47c" stroke-width="1.25" stroke-linejoin="round" stroke-dasharray="3.3 2"/>
<path d="M214.20,410.38 L217.40,410.40 L250.70,410.40 L287.50,335.70 L336.20,335.70" fill="none" stroke="#efe47c" stroke-width="1.25" stroke-linejoin="round" stroke-dasharray="3.3 2"/>
<path d="M210.80,419.10 L214.00,418.30 L272.20,418.30 L281.40,398.40 L336.20,398.40" fill="none" stroke="#444444" stroke-width="1.05" stroke-linejoin="round" stroke-dasharray="3.3 2"/>
<path d="M210.80,419.10 L214.00,420.10 L279.60,420.10 L285.40,430.40 L336.20,430.40" fill="none" stroke="#6794dc" stroke-width="1.25" stroke-linejoin="round" stroke-dasharray="3.3 2"/>
<path d="M202.30,427.82 L205.50,426.90 L229.40,426.90 L279.50,326.40 L336.20,326.40" fill="none" stroke="#efe47c" stroke-width="1.25" stroke-linejoin="round" stroke-dasharray="3.3 2"/>
<path d="M202.30,427.82 L205.50,428.10 L278.40,428.10 L282.50,423.70 L336.20,423.70" fill="none" stroke="#6794dc" stroke-width="1.25" stroke-linejoin="round"/>
<path d="M201.50,436.54 L204.70,434.30 L229.20,434.30 L271.60,345.60 L336.20,345.60" fill="none" stroke="#efe47c" stroke-width="0.85" stroke-linejoin="round"/>
<path d="M201.50,436.54 L204.70,435.20 L230.70,435.20 L272.90,346.50 L336.20,346.50" fill="none" stroke="#efe47c" stroke-width="0.85" stroke-linejoin="round"/>
<path d="M201.50,436.54 L204.70,436.30 L257.00,436.30 L274.50,400.10 L336.20,400.10" fill="none" stroke="#444444" stroke-width="1.05" stroke-linejoin="round"/>
<path d="M201.50,436.54 L204.70,438.20 L273.80,438.20 L276.70,432.00 L336.20,432.00" fill="none" stroke="#6794dc" stroke-width="1.25" stroke-linejoin="round"/>
<path d="M197.50,453.98 L200.70,452.80 L226.90,452.80 L267.10,368.40 L336.20,368.40" fill="none" stroke="#5ccf8c" stroke-width="1.25" stroke-linejoin="round" stroke-dasharray="3.3 2"/>
<path d="M197.50,453.98 L200.70,454.80 L238.80,454.80 L270.10,390.40 L336.20,390.40" fill="none" stroke="#444444" stroke-width="1.05" stroke-linejoin="round" stroke-dasharray="3.3 2"/>
<path d="M197.30,462.70 L200.50,461.60 L240.10,461.60 L274.20,392.00 L336.20,392.00" fill="none" stroke="#444444" stroke-width="1.05" stroke-linejoin="round" stroke-dasharray="3.3 2"/>
<path d="M197.30,462.70 L200.50,463.20 L260.70,463.20 L266.30,452.30 L336.20,452.30" fill="none" stroke="#a872d2" stroke-width="1.25" stroke-linejoin="round"/>
<path d="M196.90,471.42 L200.10,470.10 L247.60,470.10 L269.70,425.20 L336.20,425.20" fill="none" stroke="#6794dc" stroke-width="1.25" stroke-linejoin="round" stroke-dasharray="3.3 2"/>
<path d="M196.90,471.42 L200.10,472.30 L263.20,472.30 L272.00,454.10 L336.20,454.10" fill="none" stroke="#a872d2" stroke-width="1.25" stroke-linejoin="round"/>
<text x="349" y="293.00" font-size="7.38" fill="#0d0d0d">Low brow ridge</text>
<path d="M337.00,289.10 L345.00,289.10 L341.00,295.75 Z" fill="#000"/>
<text x="349" y="302.60" font-size="7.38" fill="#0d0d0d">Protruded brow ridge</text>
<path d="M337.00,302.65 L345.00,302.65 L341.00,296.10 Z" fill="#000"/>
<text x="349" y="315.60" font-size="7.38" fill="#0d0d0d">Large orbital volume</text>
<circle cx="340.90" cy="313.40" r="2.3" fill="#fff" stroke="#000" stroke-width="1.4"/>
<text x="349" y="328.40" font-size="7.38" fill="#0d0d0d">Wide nose wing</text>
<path d="M337.00,324.50 L345.00,324.50 L341.00,331.15 Z" fill="#000"/>
<text x="349" y="338.40" font-size="7.38" fill="#0d0d0d">Tall nostril</text>
<path d="M337.00,334.50 L345.00,334.50 L341.00,341.15 Z" fill="#000"/>
<text x="349" y="347.40" font-size="7.38" fill="#0d0d0d">Protruded nose bridge</text>
<circle cx="340.90" cy="345.20" r="2.3" fill="#fff" stroke="#000" stroke-width="1.4"/>
<text x="349" y="357.20" font-size="7.38" fill="#0d0d0d">Retracted nose root</text>
<path d="M337.00,353.30 L345.00,353.30 L341.00,359.95 Z" fill="#000"/>
<text x="349" y="369.60" font-size="7.38" fill="#0d0d0d">Barely curved cheekbones</text>
<path d="M337.00,365.70 L345.00,365.70 L341.00,372.35 Z" fill="#000"/>
<text x="349" y="379.80" font-size="7.38" fill="#0d0d0d">Infraorbital inflation</text>
<path d="M337.00,375.90 L345.00,375.90 L341.00,382.55 Z" fill="#000"/>
<text x="349" y="392.50" font-size="7.38" fill="#0d0d0d">Wide face</text>
<circle cx="340.90" cy="390.30" r="2.3" fill="#fff" stroke="#000" stroke-width="1.4"/>
<text x="349" y="401.40" font-size="7.38" fill="#0d0d0d">Long face</text>
<circle cx="340.90" cy="399.20" r="2.3" fill="#fff" stroke="#000" stroke-width="1.4"/>
<text x="349" y="411.60" font-size="7.38" fill="#0d0d0d">Protruded midface</text>
<path d="M337.00,407.70 L345.00,407.70 L341.00,414.35 Z" fill="#000"/>
<text x="349" y="423.90" font-size="7.38" fill="#0d0d0d">Wide palate</text>
<circle cx="340.90" cy="421.70" r="2.3" fill="#fff" stroke="#000" stroke-width="1.4"/>
<text x="349" y="432.90" font-size="7.38" fill="#0d0d0d">Low palate</text>
<circle cx="340.90" cy="430.70" r="2.3" fill="#fff" stroke="#000" stroke-width="1.4"/>
<text x="349" y="445.80" font-size="7.38" fill="#0d0d0d">High anterior mandible</text>
<path d="M337.00,445.85 L345.00,445.85 L341.00,439.30 Z" fill="#000"/>
<text x="349" y="455.80" font-size="7.38" fill="#0d0d0d">Flat chin</text>
<path d="M337.00,455.85 L345.00,455.85 L341.00,449.30 Z" fill="#000"/>
<rect x="489.85" y="346.21" width="2.5" height="1.09" fill="#ab8cd9"/>
<rect x="492.35" y="346.57" width="2.5" height="0.73" fill="#72d3a2"/>
<rect x="494.85" y="346.43" width="2.5" height="0.87" fill="#f2a45c"/>
<rect x="501.35" y="335.30" width="2.5" height="12.00" fill="#ab8cd9"/>
<rect x="503.85" y="338.50" width="2.5" height="8.80" fill="#72d3a2"/>
<rect x="506.35" y="335.67" width="2.5" height="11.63" fill="#f2a45c"/>
<rect x="512.85" y="306.44" width="2.5" height="40.86" fill="#ab8cd9"/>
<rect x="515.35" y="312.69" width="2.5" height="34.61" fill="#72d3a2"/>
<rect x="517.85" y="310.15" width="2.5" height="37.15" fill="#f2a45c"/>
<rect x="524.35" y="261.88" width="2.5" height="85.42" fill="#ab8cd9"/>
<rect x="526.85" y="260.93" width="2.5" height="86.37" fill="#72d3a2"/>
<rect x="529.35" y="270.67" width="2.5" height="76.63" fill="#f2a45c"/>
<rect x="535.85" y="225.75" width="2.5" height="121.55" fill="#ab8cd9"/>
<rect x="538.35" y="206.26" width="2.5" height="141.04" fill="#72d3a2"/>
<rect x="540.85" y="218.84" width="2.5" height="128.46" fill="#f2a45c"/>
<rect x="547.35" y="216.29" width="2.5" height="131.01" fill="#ab8cd9"/>
<rect x="549.85" y="176.09" width="2.5" height="171.21" fill="#72d3a2"/>
<rect x="552.35" y="212.22" width="2.5" height="135.08" fill="#f2a45c"/>
<rect x="558.85" y="233.89" width="2.5" height="113.41" fill="#ab8cd9"/>
<rect x="561.35" y="205.32" width="2.5" height="141.98" fill="#72d3a2"/>
<rect x="563.85" y="227.93" width="2.5" height="119.37" fill="#f2a45c"/>
<rect x="570.35" y="259.70" width="2.5" height="87.60" fill="#ab8cd9"/>
<rect x="572.85" y="254.03" width="2.5" height="93.27" fill="#72d3a2"/>
<rect x="575.35" y="254.97" width="2.5" height="92.33" fill="#f2a45c"/>
<rect x="581.85" y="282.82" width="2.5" height="64.48" fill="#ab8cd9"/>
<rect x="584.35" y="306.08" width="2.5" height="41.22" fill="#72d3a2"/>
<rect x="586.85" y="285.94" width="2.5" height="61.36" fill="#f2a45c"/>
<rect x="593.35" y="309.28" width="2.5" height="38.02" fill="#ab8cd9"/>
<rect x="595.85" y="339.38" width="2.5" height="7.92" fill="#72d3a2"/>
<rect x="598.35" y="310.73" width="2.5" height="36.57" fill="#f2a45c"/>
<rect x="604.85" y="330.00" width="2.5" height="17.30" fill="#ab8cd9"/>
<rect x="609.85" y="331.16" width="2.5" height="16.14" fill="#f2a45c"/>
<rect x="616.35" y="338.50" width="2.5" height="8.80" fill="#ab8cd9"/>
<rect x="621.35" y="339.38" width="2.5" height="7.92" fill="#f2a45c"/>
<rect x="627.85" y="343.81" width="2.5" height="3.49" fill="#ab8cd9"/>
<rect x="632.85" y="345.12" width="2.5" height="2.18" fill="#f2a45c"/>
<rect x="639.35" y="346.28" width="2.5" height="1.02" fill="#ab8cd9"/>
<rect x="644.35" y="346.57" width="2.5" height="0.73" fill="#f2a45c"/>
<rect x="650.85" y="347.01" width="2.5" height="0.29" fill="#ab8cd9"/>
<rect x="655.85" y="347.08" width="2.5" height="0.22" fill="#f2a45c"/>
<line x1="483.3" y1="165.2" x2="483.3" y2="347.3" stroke="#666" stroke-width="1"/>
<line x1="482.8" y1="347.3" x2="684" y2="347.3" stroke="#333" stroke-width="0.95"/>
<line x1="481" y1="347.30" x2="483.3" y2="347.30" stroke="#444" stroke-width="0.8"/>
<text x="479.80" y="349.89" font-size="7.3" text-anchor="end" fill="#0d0d0d" >0</text>
<line x1="481" y1="310.95" x2="483.3" y2="310.95" stroke="#444" stroke-width="0.8"/>
<text x="479.80" y="313.54" font-size="7.3" text-anchor="end" fill="#0d0d0d" >500</text>
<line x1="481" y1="274.60" x2="483.3" y2="274.60" stroke="#444" stroke-width="0.8"/>
<text x="479.80" y="277.19" font-size="7.3" text-anchor="end" fill="#0d0d0d" >1000</text>
<line x1="481" y1="238.25" x2="483.3" y2="238.25" stroke="#444" stroke-width="0.8"/>
<text x="479.80" y="240.84" font-size="7.3" text-anchor="end" fill="#0d0d0d" >1500</text>
<line x1="481" y1="201.90" x2="483.3" y2="201.90" stroke="#444" stroke-width="0.8"/>
<text x="479.80" y="204.49" font-size="7.3" text-anchor="end" fill="#0d0d0d" >2000</text>
<line x1="481" y1="165.55" x2="483.3" y2="165.55" stroke="#444" stroke-width="0.8"/>
<text x="479.80" y="168.14" font-size="7.3" text-anchor="end" fill="#0d0d0d" >2500</text>
<line x1="493.50" y1="347.3" x2="493.50" y2="349.5" stroke="#222" stroke-width="0.8"/>
<text x="493.50" y="356.89" font-size="7.3" text-anchor="middle" fill="#0d0d0d" >0</text>
<line x1="505.00" y1="347.3" x2="505.00" y2="349.5" stroke="#222" stroke-width="0.8"/>
<text x="505.00" y="356.89" font-size="7.3" text-anchor="middle" fill="#0d0d0d" >1</text>
<line x1="516.50" y1="347.3" x2="516.50" y2="349.5" stroke="#222" stroke-width="0.8"/>
<text x="516.50" y="356.89" font-size="7.3" text-anchor="middle" fill="#0d0d0d" >2</text>
<line x1="528.00" y1="347.3" x2="528.00" y2="349.5" stroke="#222" stroke-width="0.8"/>
<text x="528.00" y="356.89" font-size="7.3" text-anchor="middle" fill="#0d0d0d" >3</text>
<line x1="539.50" y1="347.3" x2="539.50" y2="349.5" stroke="#222" stroke-width="0.8"/>
<text x="539.50" y="356.89" font-size="7.3" text-anchor="middle" fill="#0d0d0d" >4</text>
<line x1="551.00" y1="347.3" x2="551.00" y2="349.5" stroke="#222" stroke-width="0.8"/>
<text x="551.00" y="356.89" font-size="7.3" text-anchor="middle" fill="#0d0d0d" >5</text>
<line x1="562.50" y1="347.3" x2="562.50" y2="349.5" stroke="#222" stroke-width="0.8"/>
<text x="562.50" y="356.89" font-size="7.3" text-anchor="middle" fill="#0d0d0d" >6</text>
<line x1="574.00" y1="347.3" x2="574.00" y2="349.5" stroke="#222" stroke-width="0.8"/>
<text x="574.00" y="356.89" font-size="7.3" text-anchor="middle" fill="#0d0d0d" >7</text>
<line x1="585.50" y1="347.3" x2="585.50" y2="349.5" stroke="#222" stroke-width="0.8"/>
<text x="585.50" y="356.89" font-size="7.3" text-anchor="middle" fill="#0d0d0d" >8</text>
<line x1="597.00" y1="347.3" x2="597.00" y2="349.5" stroke="#222" stroke-width="0.8"/>
<text x="597.00" y="356.89" font-size="7.3" text-anchor="middle" fill="#0d0d0d" >9</text>
<line x1="608.50" y1="347.3" x2="608.50" y2="349.5" stroke="#222" stroke-width="0.8"/>
<text x="608.50" y="356.89" font-size="7.3" text-anchor="middle" fill="#0d0d0d" >10</text>
<line x1="620.00" y1="347.3" x2="620.00" y2="349.5" stroke="#222" stroke-width="0.8"/>
<text x="620.00" y="356.89" font-size="7.3" text-anchor="middle" fill="#0d0d0d" >11</text>
<line x1="631.50" y1="347.3" x2="631.50" y2="349.5" stroke="#222" stroke-width="0.8"/>
<text x="631.50" y="356.89" font-size="7.3" text-anchor="middle" fill="#0d0d0d" >12</text>
<line x1="643.00" y1="347.3" x2="643.00" y2="349.5" stroke="#222" stroke-width="0.8"/>
<text x="643.00" y="356.89" font-size="7.3" text-anchor="middle" fill="#0d0d0d" >13</text>
<line x1="654.50" y1="347.3" x2="654.50" y2="349.5" stroke="#222" stroke-width="0.8"/>
<text x="654.50" y="356.89" font-size="7.3" text-anchor="middle" fill="#0d0d0d" >14</text>
<line x1="666.00" y1="347.3" x2="666.00" y2="349.5" stroke="#222" stroke-width="0.8"/>
<text x="666.00" y="356.89" font-size="7.3" text-anchor="middle" fill="#0d0d0d" >15</text>
<line x1="677.50" y1="347.3" x2="677.50" y2="349.5" stroke="#222" stroke-width="0.8"/>
<text x="677.50" y="356.89" font-size="7.3" text-anchor="middle" fill="#0d0d0d" >16</text>
<text x="585.30" y="368.50" font-size="9.3" text-anchor="middle" fill="#0d0d0d" >Number of Neanderthals facial features</text>
<text transform="translate(458.4,256) rotate(-90)" font-size="9.3" text-anchor="middle" fill="#0d0d0d">Frequency</text>
<text x="584.80" y="141.16" font-size="8.35" text-anchor="middle" fill="#0d0d0d" >0 discordant result (p = 0.0012)</text>
<text x="584.80" y="153.36" font-size="8.35" text-anchor="middle" fill="#0d0d0d" >1 inconsistent result (p = 0.0126)</text>
<text x="584.80" y="165.56" font-size="8.35" text-anchor="middle" fill="#0d0d0d" >15 concordant results (p &lt; 0.0001)</text>
<path d="M519.4,138.6 L493.6,138.6 L493.6,339.6" fill="none" stroke="#b18fdc" stroke-width="1.5" stroke-linejoin="miter"/>
<path d="M490.6,335.2 L493.6,339.90000000000003 L496.6,335.2" fill="none" stroke="#b18fdc" stroke-width="1.9" stroke-linejoin="round" stroke-linecap="round"/>
<path d="M518.0,150.8 L504.9,150.8 L504.9,325.3" fill="none" stroke="#72d3a2" stroke-width="1.5" stroke-linejoin="miter"/>
<path d="M501.59999999999997,320.9 L504.9,325.6 L508.2,320.9" fill="none" stroke="#72d3a2" stroke-width="1.9" stroke-linejoin="round" stroke-linecap="round"/>
<path d="M654.6,162.9 L666.2,162.9 L666.2,339.6" fill="none" stroke="#f2a45c" stroke-width="1.5" stroke-linejoin="miter"/>
<path d="M663.2,335.2 L666.2,339.90000000000003 L669.2,335.2" fill="none" stroke="#f2a45c" stroke-width="1.9" stroke-linejoin="round" stroke-linecap="round"/>
</svg>
</body></html>
